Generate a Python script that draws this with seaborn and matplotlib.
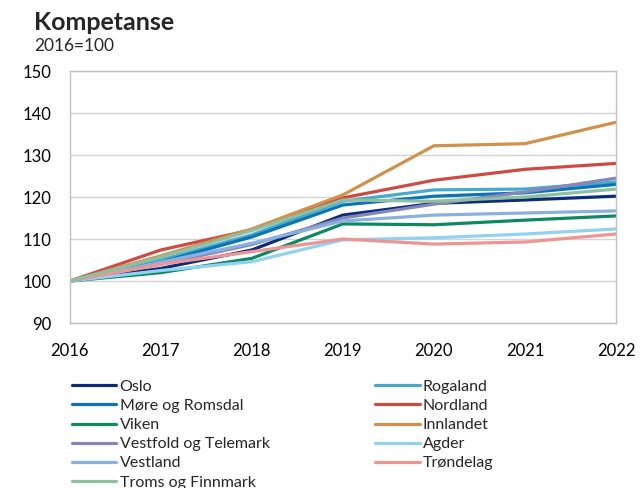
import pandas as pd
import matplotlib.pyplot as plt
import seaborn as sns

years = [2016, 2017, 2018, 2019, 2020, 2021, 2022]

regions = ['Oslo', 'Rogaland', 'Møre og Romsdal', 'Nordland', 'Viken', 'Innlandet',
           'Vestfold og Telemark', 'Agder', 'Vestland', 'Trøndelag', 'Troms og Finnmark']

oslo = [100, 103.0, 107.4, 115.7, 118.5, 119.3, 120.2]
rogaland = [100, 105.0, 111.0, 119.0, 121.7, 121.9, 123.6]
more = [100, 104.5, 110.5, 118.1, 120.2, 121.0, 123.0]
nordland = [100, 107.4, 112.2, 119.8, 124.0, 126.6, 128.0]
viken = [100, 102.0, 105.4, 113.6, 113.4, 114.5, 115.5]
innlandet = [100, 106.0, 112.4, 120.5, 132.2, 132.7, 137.8]
vestfold = [100, 104.0, 108.7, 115.0, 118.3, 121.2, 124.5]
agder = [100, 102.5, 104.6, 109.8, 110.3, 111.2, 112.4]
vestland = [100, 104.5, 109.0, 114.3, 115.7, 116.2, 116.7]
trondelag = [100, 104.0, 107.0, 110.0, 108.8, 109.3, 111.2]
troms = [100, 105.7, 112.0, 119.3, 119.0, 120.0, 121.9]

colors = ['#0b2d78', '#45aacc', '#0a74b6', '#cd4b42', '#0b8a62', '#d1914a',
          '#8587b8', '#92d1ef', '#89b0de', '#ee9593', '#8dbfa1']

series = [oslo, rogaland, more, nordland, viken, innlandet,
          vestfold, agder, vestland, trondelag, troms]

rows = []
for name, vals in zip(regions, series):
    for y, v in zip(years, vals):
        rows.append({'år': y, 'indeks': v, 'region': name})
df = pd.DataFrame(rows)

sns.set_style('white')
plt.rcParams['font.family'] = ['Lato', 'DejaVu Sans']

fig = plt.figure(figsize=(6.4, 4.88), dpi=100)
ax = fig.add_axes([0.109, 0.338, 0.8535, 0.5165])

sns.lineplot(data=df, x='år', y='indeks', hue='region', hue_order=regions,
             palette=dict(zip(regions, colors)), linewidth=2.3, ax=ax, legend=True)

ax.set_xlim(2016, 2022)
ax.set_ylim(90, 150)
ax.set_yticks(range(90, 151, 10))
ax.set_xticks(years)
ax.yaxis.grid(True, color='#d4d4d4', linewidth=1)
ax.set_xlabel('')
ax.set_ylabel('')
for s in ax.spines.values():
    s.set_color('#c0c0c0')
    s.set_linewidth(1)
ax.tick_params(axis='both', labelsize=12, length=0, colors='black')
ax.tick_params(axis='x', pad=14)
ax.tick_params(axis='y', pad=13)

handles, labels = ax.get_legend_handles_labels()
ax.get_legend().remove()
order = [0, 2, 4, 6, 8, 10, 1, 3, 5, 7, 9]
leg = fig.legend([handles[i] for i in order], [labels[i] for i in order],
                 loc='upper left', bbox_to_anchor=(0.112, 0.222), ncol=2, frameon=False,
                 fontsize=11.5, handlelength=2.8, handletextpad=0.2, labelspacing=0.31,
                 columnspacing=6.6, borderaxespad=0, borderpad=0)
for h in leg.get_lines():
    h.set_linewidth(2.3)

fig.text(0.053, 0.953, 'Kompetanse', fontsize=18, fontweight='bold', va='center')
fig.text(0.053, 0.906, '2016=100', fontsize=12.5, va='center')

fig.savefig('out.png', dpi=100)
